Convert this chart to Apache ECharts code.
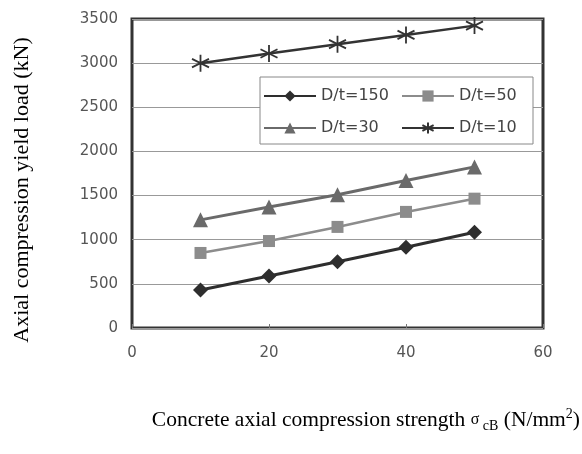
<!DOCTYPE html>
<html><head><meta charset="utf-8">
<script src="https://cdn.jsdelivr.net/npm/echarts@6/dist/echarts.min.js"></script>
<style>html,body{margin:0;padding:0;background:#fff}#c{width:582px;height:454px}</style>
</head><body><div id="c"></div>
<script>
const xValues = [10, 20, 30, 40, 50];
const seriesNames = ['D/t=150', 'D/t=50', 'D/t=30', 'D/t=10'];
const dt150 = [430, 590, 750, 915, 1085];
const dt50 = [850, 985, 1145, 1315, 1465];
const dt30 = [1225, 1370, 1510, 1670, 1825];
const dt10 = [3000, 3110, 3215, 3320, 3425];

const pairs = arr => xValues.map((x, i) => [x, arr[i]]);
const asterisk = 'path://M10,0L10,20M1.3,5L18.7,15M1.3,15L18.7,5';

const chart = echarts.init(document.getElementById('c'));
chart.setOption({
  animation: false,
  backgroundColor: '#fff',
  grid: { left: 132, top: 19, right: 39, bottom: 126, show: true, borderColor: '#333', borderWidth: 3, backgroundColor: '#fff' },
  xAxis: {
    type: 'value', min: 0, max: 60, interval: 20,
    axisLine: { show: false },
    axisTick: { show: true, inside: true, length: 4, lineStyle: { color: '#777' } },
    splitLine: { show: false },
    axisLabel: { fontFamily: 'DejaVu Sans', fontSize: 15, color: '#555', margin: 18, formatter: v => String(v) }
  },
  yAxis: {
    type: 'value', min: 0, max: 3500, interval: 500,
    axisLine: { show: false }, axisTick: { show: false },
    splitLine: { show: true, lineStyle: { color: '#999', width: 1 } },
    axisLabel: { fontFamily: 'DejaVu Sans', fontSize: 15, color: '#555', margin: 14, formatter: v => String(v) }
  },
  legend: {
    left: 260, top: 77, width: 285, orient: 'horizontal',
    backgroundColor: '#fff', borderColor: '#888', borderWidth: 1,
    padding: [8, 4, 5, 3], itemGap: 10, itemWidth: 52, itemHeight: 14,
    data: seriesNames,
    textStyle: { fontFamily: 'DejaVu Sans', fontSize: 16, color: '#444', width: 70, lineHeight: 22 }
  },
  series: [
    { name: seriesNames[0], type: 'line', data: pairs(dt150), symbol: 'diamond', symbolSize: 15,
      lineStyle: { color: '#2e2e2e', width: 3 }, itemStyle: { color: '#2e2e2e' } },
    { name: seriesNames[1], type: 'line', data: pairs(dt50), symbol: 'rect', symbolSize: 12,
      lineStyle: { color: '#8c8c8c', width: 2.5 }, itemStyle: { color: '#8c8c8c' } },
    { name: seriesNames[2], type: 'line', data: pairs(dt30), symbol: 'triangle', symbolSize: 15,
      lineStyle: { color: '#6a6a6a', width: 3 }, itemStyle: { color: '#6a6a6a' } },
    { name: seriesNames[3], type: 'line', data: pairs(dt10), symbol: asterisk, symbolSize: 17,
      lineStyle: { color: '#333', width: 2.5 }, itemStyle: { color: '#333', borderColor: '#333', borderWidth: 1.8 } }
  ],
  graphic: [
    { type: 'text', x: 22, y: 190, rotation: Math.PI / 2,
      style: { text: 'Axial compression yield load (kN)', fontFamily: 'Liberation Serif', fontSize: 22, fill: '#000', align: 'center', verticalAlign: 'middle' } },
    { type: 'text', x: 580, y: 420,
      style: {
        text: '{a|Concrete axial compression strength }{s|σ}{sub| cB}{a| (N/mm}{sup|2}{a|)}',
        align: 'right', verticalAlign: 'middle',
        rich: {
          a: { fontFamily: 'Liberation Serif', fontSize: 21.5, fill: '#000', lineHeight: 26 },
          s: { fontFamily: 'Liberation Serif', fontSize: 16, fill: '#000', lineHeight: 26 },
          sub: { fontFamily: 'Liberation Serif', fontSize: 14, fill: '#000', lineHeight: 15, verticalAlign: 'bottom' },
          sup: { fontFamily: 'Liberation Serif', fontSize: 14, fill: '#000', lineHeight: 14, verticalAlign: 'top' }
        }
      } }
  ]
});
</script></body></html>
